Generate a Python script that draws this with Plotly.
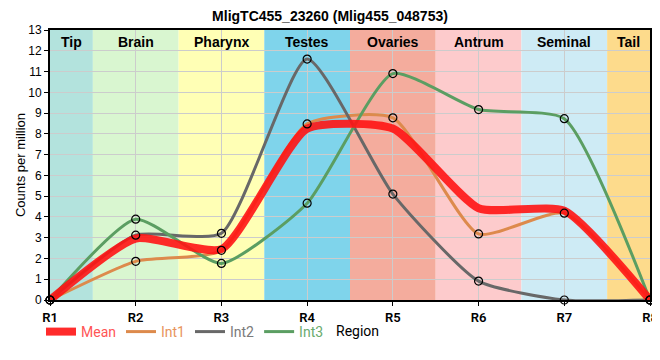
import plotly.graph_objects as go

regions = ["R1", "R2", "R3", "R4", "R5", "R6", "R7", "R8"]
mean_vals = [0, 2.96, 2.45, 8.25, 8.26, 4.42, 4.30, 0]
int1_vals = [0, 1.86, 2.39, 8.48, 8.77, 3.18, 4.18, 0]
int2_vals = [0, 3.12, 3.21, 11.60, 5.10, 0.91, 0, 0]
int3_vals = [0, 3.89, 1.76, 4.66, 10.90, 9.17, 8.73, 0]

band_names = ["Tip", "Brain", "Pharynx", "Testes", "Ovaries", "Antrum", "Seminal", "Tail"]
band_starts = [0, 0.5, 1.5, 2.5, 3.5, 4.5, 5.5, 6.5]
band_ends = [0.5, 1.5, 2.5, 3.5, 4.5, 5.5, 6.5, 7]
band_colors = ["#b3e3dd", "#d9f6d0", "#ffffb5", "#7fd4eb", "#f4ac9d", "#fdcbcc", "#ceebf5", "#fddb8c"]

title = "MligTC455_23260 (Mlig455_048753)"

SMOOTH = 0.55
W, H = 652, 344  # page has an 8px body margin

fig = go.Figure()

series = [
    ("Int1", int1_vals, "#dd8a4c", "#e8955c"),
    ("Int2", int2_vals, "#686868", "#7a7a7a"),
    ("Int3", int3_vals, "#5b9e62", "#6aab6e"),
]

for name, vals, col, tcol in series:
    fig.add_trace(go.Scatter(
        x=regions, y=vals, mode="lines", name=f"<span style='color:{tcol}'>{name}</span>",
        line=dict(color=col, width=3, shape="spline", smoothing=SMOOTH),
    ))

fig.add_trace(go.Scatter(
    x=regions, y=mean_vals, mode="lines", name="<span style='color:#ff5555'>Mean</span>",
    line=dict(color="rgba(255,20,20,0.9)", width=8, shape="spline", smoothing=SMOOTH),
    legendrank=1,
))

for name, vals, col, tcol in series:
    fig.add_trace(go.Scatter(
        x=regions, y=vals, mode="markers", showlegend=False,
        marker=dict(symbol="circle", size=8, color="rgba(0,0,0,0)",
                    line=dict(color="black", width=1.2)),
        cliponaxis=False,
    ))

for name, x0, x1, c in zip(band_names, band_starts, band_ends, band_colors):
    fig.add_shape(type="rect", xref="x", yref="paper", x0=x0, x1=x1, y0=0, y1=1,
                  fillcolor=c, line=dict(width=0), layer="below")
    fig.add_annotation(x=(x0 + x1) / 2, xref="x", y=1, yref="paper", yanchor="top",
                       yshift=-2, text=f"<b>{name}</b>", showarrow=False,
                       font=dict(family="Liberation Sans, Arial", size=14, color="black"))

fig.add_annotation(x=(357 - 50) / 600, xref="paper", y=-31 / 270, yref="paper",
                   yanchor="middle", xanchor="center", text="Region", showarrow=False,
                   font=dict(family="Roboto", size=14, color="black"))

fig.update_layout(
    width=W, height=H,
    margin=dict(l=42, r=10, t=22, b=52, autoexpand=False),
    paper_bgcolor="white", plot_bgcolor="rgba(0,0,0,0)",
    title=dict(text=f"<b>{title}</b>", x=322 / W, xanchor="center", xref="container",
               y=1 - 3 / H, yanchor="top",
               font=dict(family="Liberation Sans, Arial", size=14, color="black")),
    showlegend=True,
    legend=dict(orientation="h", x=-0.015, xanchor="left", xref="paper",
                y=1 - 324 / H, yref="container", yanchor="middle",
                font=dict(family="Roboto", size=14), itemwidth=30,
                traceorder="normal", bgcolor="rgba(0,0,0,0)"),
)
fig.update_xaxes(
    type="category", range=[0, 7], categoryorder="array", categoryarray=regions,
    showgrid=True, gridcolor="#cccccc", gridwidth=1,
    showline=True, linecolor="black", linewidth=2, mirror=True,
    ticks="outside", ticklen=4, tickcolor="black", automargin=False,
    tickfont=dict(family="Roboto", size=13, color="black", weight=600),
    zeroline=False,
)
fig.update_yaxes(
    range=[0, 13], dtick=1, showgrid=True, gridcolor="#cccccc", gridwidth=1,
    showline=True, linecolor="black", linewidth=2, mirror=True,
    ticks="outside", ticklen=4, tickcolor="black", automargin=False,
    tickfont=dict(family="Liberation Sans, Arial", size=12, color="black"),
    title=dict(text="Counts per million", font=dict(family="Liberation Sans, Arial", size=13, color="black"), standoff=0),
    zeroline=False,
)

fig.write_html("out.html", default_width=f"{W}px", default_height=f"{H}px")
